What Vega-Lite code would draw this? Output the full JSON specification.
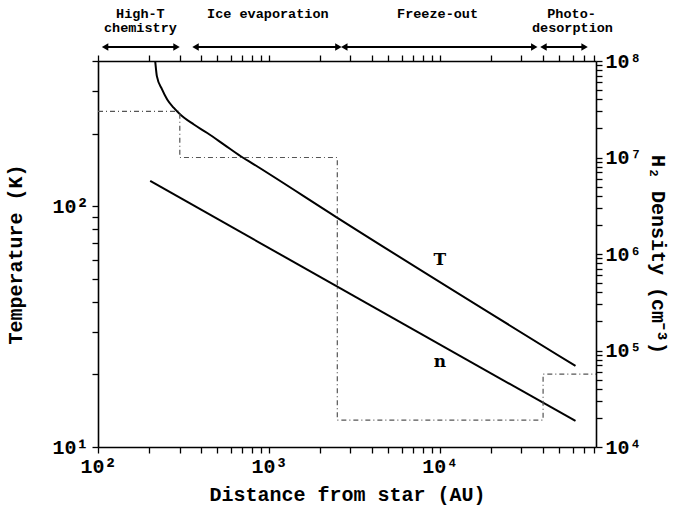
{
  "$schema": "https://vega.github.io/schema/vega-lite/v6.json",
  "padding": {"left": 5, "top": 2, "right": 2, "bottom": 4},
  "background": "white",
  "config": {
    "view": {"stroke": null},
    "font": "Liberation Mono",
    "axis": {"ticks": true, "tickSize": 6, "domainColor": "black", "domainWidth": 1.6, "tickColor": "black", "tickWidth": 1.3, "labelColor": "black", "titleColor": "black", "labelFont": "Liberation Mono", "titleFont": "Liberation Mono", "labelFontSize": 20, "titleFontSize": 20, "labelFontWeight": "bold", "titleFontWeight": "bold", "grid": false, "labelFlush": false, "labelOverlap": false}
  },
  "datasets": {
    "temp": [
      {"r": 213, "T": 440}, {"r": 216, "T": 400}, {"r": 221, "T": 346}, {"r": 237, "T": 305},
      {"r": 254, "T": 277}, {"r": 277, "T": 256}, {"r": 303, "T": 240}, {"r": 364, "T": 218},
      {"r": 436, "T": 201}, {"r": 546, "T": 180}, {"r": 684, "T": 161}, {"r": 816, "T": 149},
      {"r": 2478, "T": 90}, {"r": 62200, "T": 21.7}
    ],
    "dens": [{"r": 202, "n": 5710000}, {"r": 62200, "n": 18600}],
    "step": [
      {"r": 100, "a": 30000000}, {"r": 301, "a": 10000000}, {"r": 2513, "a": 19000},
      {"r": 40200, "a": 57000}, {"r": 82000, "a": 57000}
    ],
    "regions": [
      {"region": "High-T chemistry", "from": 110, "to": 288},
      {"region": "Ice evaporation", "from": 372, "to": 2550},
      {"region": "Freeze-out", "from": 2760, "to": 35700},
      {"region": "Photodesorption", "from": 40400, "to": 70300}
    ],
    "texts": [
      {"text": "High-T", "r": 177, "line": 1},
      {"text": "chemistry", "r": 177, "line": 2},
      {"text": "Ice evaporation", "r": 986, "line": 1},
      {"text": "Freeze-out", "r": 9700, "line": 1},
      {"text": "Photo-", "r": 59000, "line": 1},
      {"text": "desorption", "r": 59700, "line": 2}
    ]
  },
  "spacing": 0,
  "vconcat": [
    {
      "width": 498,
      "height": 48,
      "layer": [
        {
          "data": {"name": "texts"},
          "mark": {"type": "text", "font": "Liberation Mono", "fontWeight": "bold", "fontSize": 13.5, "baseline": "middle"},
          "encoding": {
            "x": {"field": "r", "type": "quantitative", "scale": {"type": "log", "domain": [100, 82000]}, "axis": null},
            "y": {"field": "line", "type": "quantitative", "scale": {"domain": [0.1429, 3.571], "reverse": true, "nice": false, "zero": false}, "axis": null},
            "text": {"field": "text"}
          }
        },
        {
          "data": {"name": "regions"},
          "mark": {"type": "rule", "color": "black", "strokeWidth": 2},
          "encoding": {
            "x": {"field": "from", "type": "quantitative", "scale": {"type": "log", "domain": [100, 82000]}, "axis": null},
            "x2": {"field": "to"},
            "y": {"datum": 3.36, "type": "quantitative", "scale": {"domain": [0.1429, 3.571], "reverse": true, "nice": false, "zero": false}, "axis": null}
          }
        },
        {
          "data": {"name": "regions"},
          "mark": {"type": "point", "shape": "triangle-left", "filled": true, "color": "black", "size": 55, "opacity": 1},
          "encoding": {
            "x": {"field": "from", "type": "quantitative", "scale": {"type": "log", "domain": [100, 82000]}, "axis": null},
            "y": {"datum": 3.36, "type": "quantitative", "scale": {"domain": [0.1429, 3.571], "reverse": true, "nice": false, "zero": false}, "axis": null}
          }
        },
        {
          "data": {"name": "regions"},
          "mark": {"type": "point", "shape": "triangle-right", "filled": true, "color": "black", "size": 55, "opacity": 1},
          "encoding": {
            "x": {"field": "to", "type": "quantitative", "scale": {"type": "log", "domain": [100, 82000]}, "axis": null},
            "y": {"datum": 3.36, "type": "quantitative", "scale": {"domain": [0.1429, 3.571], "reverse": true, "nice": false, "zero": false}, "axis": null}
          }
        }
      ]
    },
    {
      "width": 498,
      "height": 386,
      "resolve": {"scale": {"y": "independent"}, "axis": {"x": "independent", "y": "independent"}},
      "layer": [
        {
          "data": {"name": "temp"},
          "mark": {"type": "line", "color": "black", "strokeWidth": 2, "clip": true, "interpolate": "monotone"},
          "encoding": {
            "x": {"field": "r", "type": "quantitative", "scale": {"type": "log", "domain": [100, 82000], "nice": false},
              "axis": {"orient": "bottom", "values": [100, 200, 300, 400, 500, 600, 700, 800, 900, 1000, 2000, 3000, 4000, 5000, 6000, 7000, 8000, 9000, 10000, 20000, 30000, 40000, 50000, 60000, 70000, 80000], "labelPadding": 3,
                "labelExpr": "abs(log(datum.value)/LN10 - round(log(datum.value)/LN10)) < 0.001 ? '10' + ['⁰','¹','²','³','⁴','⁵','⁶','⁷','⁸','⁹'][round(log(datum.value)/LN10)] : ''",
                "title": "Distance from star (AU)", "titlePadding": 8}},
            "y": {"field": "T", "type": "quantitative", "scale": {"type": "log", "domain": [10, 400], "nice": false},
              "axis": {"orient": "left", "values": [10, 20, 30, 40, 50, 60, 70, 80, 90, 100, 200, 300, 400], "labelPadding": 4,
                "labelExpr": "abs(log(datum.value)/LN10 - round(log(datum.value)/LN10)) < 0.001 ? '10' + ['⁰','¹','²','³','⁴','⁵','⁶','⁷','⁸','⁹'][round(log(datum.value)/LN10)] : ''",
                "title": "Temperature (K)", "titlePadding": 26}}
          }
        },
        {
          "data": {"values": [{"label": "T", "r": 10000, "T": 60}]},
          "mark": {"type": "text", "font": "DejaVu Serif", "fontWeight": "bold", "fontSize": 17, "baseline": "middle"},
          "encoding": {
            "x": {"field": "r", "type": "quantitative", "scale": {"type": "log", "domain": [100, 82000], "nice": false}, "axis": null},
            "y": {"field": "T", "type": "quantitative", "scale": {"type": "log", "domain": [10, 400], "nice": false}, "axis": null},
            "text": {"field": "label"}
          }
        },
        {
          "data": {"name": "dens"},
          "mark": {"type": "line", "color": "black", "strokeWidth": 2, "clip": true},
          "encoding": {
            "x": {"field": "r", "type": "quantitative", "scale": {"type": "log", "domain": [100, 82000], "nice": false},
              "axis": {"orient": "top", "values": [100, 200, 300, 400, 500, 600, 700, 800, 900, 1000, 2000, 3000, 4000, 5000, 6000, 7000, 8000, 9000, 10000, 20000, 30000, 40000, 50000, 60000, 70000, 80000], "labels": false, "title": null, "minExtent": 0, "maxExtent": 0}},
            "y": {"field": "n", "type": "quantitative", "scale": {"type": "log", "domain": [10000, 100000000], "nice": false},
              "axis": {"orient": "right", "values": [10000, 20000, 30000, 40000, 50000, 60000, 70000, 80000, 90000, 100000, 200000, 300000, 400000, 500000, 600000, 700000, 800000, 900000, 1000000, 2000000, 3000000, 4000000, 5000000, 6000000, 7000000, 8000000, 9000000, 10000000, 20000000, 30000000, 40000000, 50000000, 60000000, 70000000, 80000000, 90000000, 100000000], "labelPadding": 3,
                "labelExpr": "abs(log(datum.value)/LN10 - round(log(datum.value)/LN10)) < 0.001 ? '10' + ['⁰','¹','²','³','⁴','⁵','⁶','⁷','⁸','⁹'][round(log(datum.value)/LN10)] : ''",
                "title": "H₂ Density (cm⁻³)", "titlePadding": 6}}
          }
        },
        {
          "data": {"values": [{"label": "n", "r": 10000, "n": 76000}]},
          "mark": {"type": "text", "font": "DejaVu Serif", "fontWeight": "bold", "fontSize": 17, "baseline": "middle"},
          "encoding": {
            "x": {"field": "r", "type": "quantitative", "scale": {"type": "log", "domain": [100, 82000], "nice": false}, "axis": null},
            "y": {"field": "n", "type": "quantitative", "scale": {"type": "log", "domain": [10000, 100000000], "nice": false}, "axis": null},
            "text": {"field": "label"}
          }
        },
        {
          "data": {"name": "step"},
          "mark": {"type": "line", "color": "#555555", "strokeWidth": 1.2, "strokeDash": [5, 3, 1, 3], "interpolate": "step-after", "clip": true},
          "encoding": {
            "x": {"field": "r", "type": "quantitative", "scale": {"type": "log", "domain": [100, 82000], "nice": false}, "axis": null},
            "y": {"field": "a", "type": "quantitative", "scale": {"type": "log", "domain": [10000, 100000000], "nice": false}, "axis": null}
          }
        }
      ]
    }
  ]
}
